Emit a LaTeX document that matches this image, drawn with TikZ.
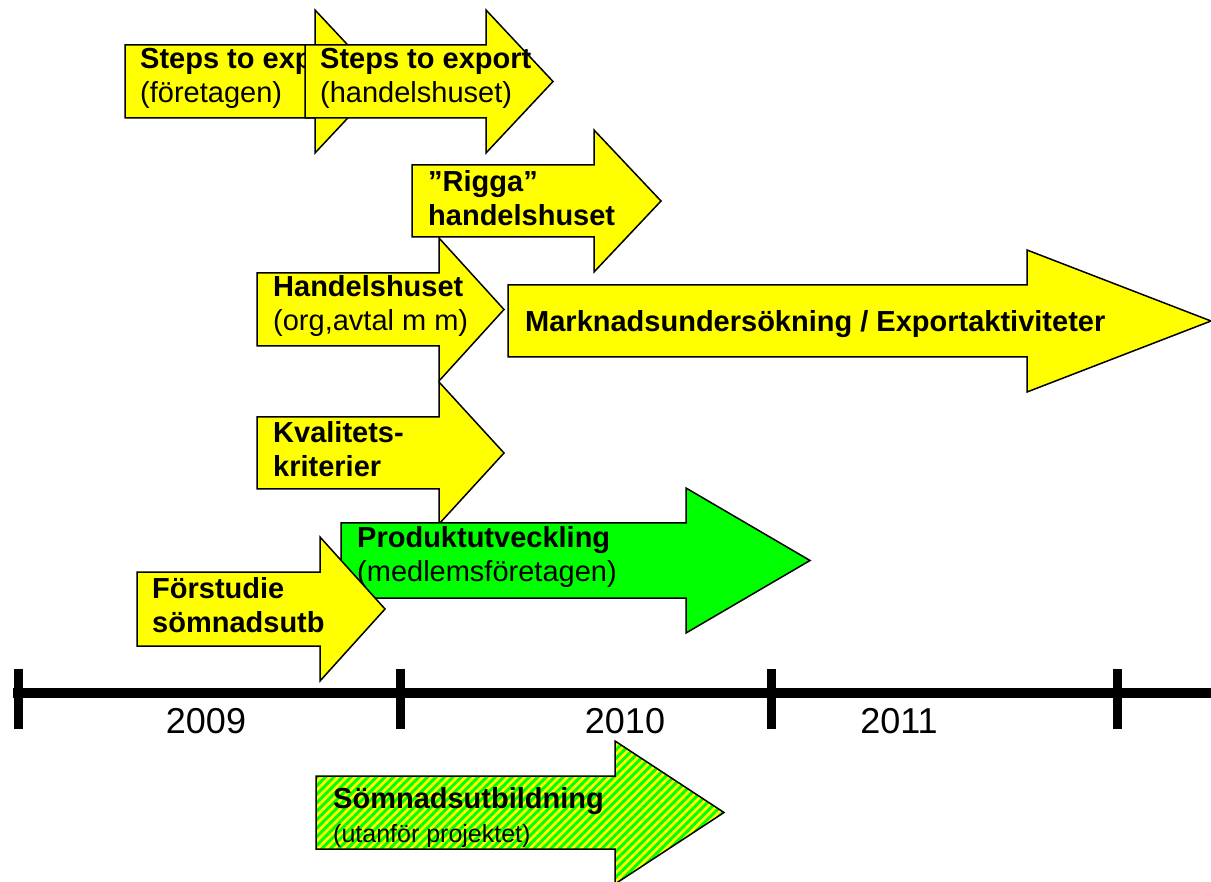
\documentclass[tikz,border=0pt]{standalone}
\usepackage{fontspec}
\setmainfont{Liberation Sans}
\usetikzlibrary{patterns.meta}
\definecolor{gul}{RGB}{255,255,0}
\definecolor{gron}{RGB}{0,255,0}
\tikzset{
  gulpil/.style={draw, line width=1.5pt, fill=gul},
  gronpil/.style={draw, line width=1.5pt, fill=gron},
  randpil/.style={fill=gul, postaction={pattern={Lines[angle=45,distance=6pt,line width=3pt]}, pattern color=gron}, postaction={draw, line width=1.5pt}},
  piltext/.style={anchor=west, inner sep=0pt, align=left, font=\fontsize{29}{34}\selectfont},
  arstal/.style={font=\fontsize{36}{40}\selectfont}
}
% pil: stil, vänster x, övre y, undre y, huvudets x, spetsens x
\newcommand{\pil}[6]{\path[#1] (#2,#3) -- (#5,#3) -- (#5,#3-35) -- (#6,{(#3+#4)/2}) -- (#5,#4+35) -- (#5,#4) -- (#2,#4) -- cycle;}
\begin{document}
\begin{tikzpicture}[x=1pt,y=-1pt]
  \useasboundingbox (0,0) rectangle (1211,882);
  % pilar
  \pil{gulpil}{125}{45}{118}{315}{382}
  \node[piltext] (steg1) at (140,78) {\textbf{Steps to export}\\(företagen)};
  \pil{gulpil}{305}{45}{118}{486}{553}
  \node[piltext] (steg2) at (320,78) {\textbf{Steps to export}\\(handelshuset)};
  \pil{gulpil}{412}{165}{237}{594}{661}
  \node[piltext] (rigga) at (428,198) {\textbf{”Rigga”}\\\textbf{handelshuset}};
  \pil{gulpil}{257}{273}{346}{439}{504}
  \node[piltext] (handelshus) at (273,306) {\textbf{Handelshuset}\\(org,avtal m m)};
  \pil{gulpil}{257}{417}{489}{439}{504}
  \node[piltext] (kvalitet) at (273,449) {\textbf{Kvalitets-}\\\textbf{kriterier}};
  \pil{gulpil}{508}{285}{357}{1027}{1211}
  \node[piltext] (marknad) at (525,324) {\textbf{Marknadsundersökning / Exportaktiviteter}};
  \pil{gronpil}{341}{523}{598}{686}{810}
  \node[piltext] (produkt) at (357,557) {\textbf{Produktutveckling}\\(medlemsföretagen)};
  \pil{gulpil}{137}{572}{646}{320}{385}
  \node[piltext] (forstudie) at (152,605) {\textbf{Förstudie}\\\textbf{sömnadsutb}};
  \pil{randpil}{316}{776}{849}{615}{724}
  \node[piltext] (somnad) at (333,818) {\textbf{Sömnadsutbildning}\\{\fontsize{25}{30}\selectfont(utanför projektet)}};
  % tidslinje
  \coordinate (start) at (13,693);
  \coordinate (slut) at (1211,693);
  \draw[line width=10pt] (start) -- (slut);
  \foreach \x/\namn in {18/t0,400/t1,771/t2,1117/t3}
    \draw[line width=9pt] (\x,669) coordinate (\namn) -- (\x,729);
  \node[arstal] (ar2009) at (206,721) {2009};
  \node[arstal] (ar2010) at (625,721) {2010};
  \node[arstal] (ar2011) at (899,721) {2011};
\end{tikzpicture}
\end{document}
